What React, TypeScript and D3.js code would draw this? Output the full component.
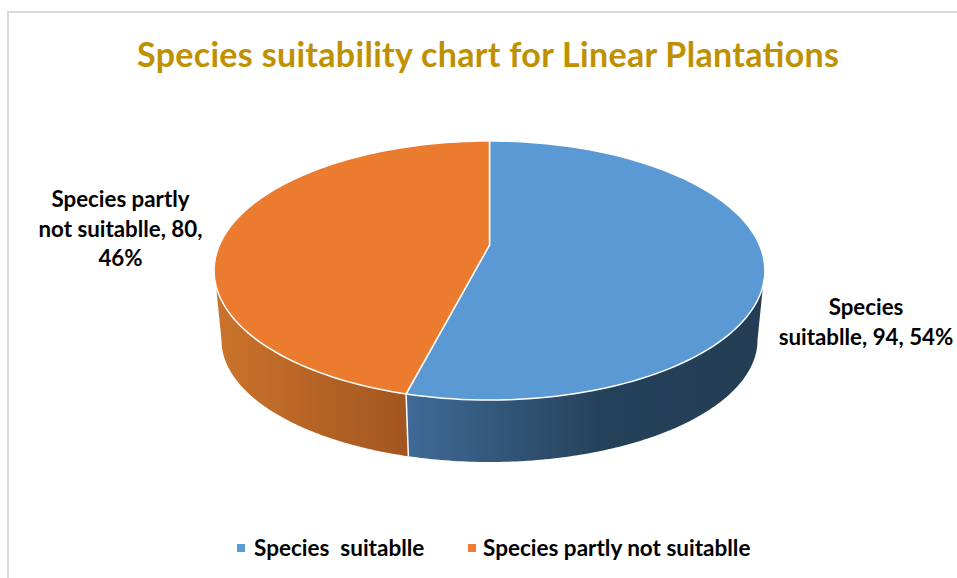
import React from "react";
import * as d3 from "d3";

const categories = ["Species  suitablle", "Species partly not suitablle"];
const values = [94, 80];
const colors = ["#5A99D4", "#EA7B2F"];
const title = "Species suitability chart for Linear Plantations";
const labelLines = [
  ["Species", "suitablle, 94, 54%"],
  ["Species partly", "not suitablle, 80,", "46%"],
];
const font = "Lato, 'Open Sans', sans-serif";

const W = 957, H = 578;
const cx = 489.5, apexY = 245, A = 270, B = 124.5, K = 0.197;
const topCy = 270.5, topRy = 129.5, topRx = 275.5;
const botCy = 340, botRy = 122, botRx = 268;

const project = (a: number): [number, number] => {
  const u = Math.sin(a), v = -Math.cos(a), d = 1 - K * v;
  return [cx + (A * u) / d, apexY + (B * v) / d];
};
const sample = (a0: number, a1: number, n = 120) =>
  d3.range(n + 1).map((i) => a0 + ((a1 - a0) * i) / n);
const line = d3.line();

const arcs = d3.pie<number>().sort(null)(values);

const wedgePath = (a0: number, a1: number) =>
  line([[cx, apexY], ...sample(a0, a1).map(project)]) + "Z";

// screen-ellipse parameter (0 = right, PI/2 = bottom) of a pie angle on the rim
const rimTheta = (a: number) => {
  const [x, y] = project(a);
  return Math.atan2((y - topCy) / topRy, (x - cx) / topRx);
};
const wallPath = (t0: number, t1: number, b0: number, b1: number) => {
  const top = sample(t0, t1).map((t): [number, number] => [
    cx + topRx * Math.cos(t),
    topCy + topRy * Math.sin(t),
  ]);
  const bot = sample(b1, b0).map((t): [number, number] => [
    cx + botRx * Math.cos(t),
    botCy + botRy * Math.sin(t),
  ]);
  return line([...top, ...bot]) + "Z";
};

export default function App() {
  const split = rimTheta(arcs[0].endAngle);
  const startT = (7 * Math.PI) / 180;
  const endT = Math.PI - startT;
  const px = cx + topRx * Math.cos(split), py = topCy + topRy * Math.sin(split);
  const qx = cx + botRx * Math.cos(split), qy = botCy + botRy * Math.sin(split);
  return (
    <svg width={W} height={H} style={{ position: "fixed", left: 0, top: 0, background: "#fff" }}>
      <defs>
        <linearGradient id="blueWall" gradientUnits="userSpaceOnUse" x1={408} x2={765} y1={0} y2={0}>
          <stop offset="0" stopColor="#3F6A97" />
          <stop offset="0.55" stopColor="#254159" />
          <stop offset="1" stopColor="#233D54" />
        </linearGradient>
        <linearGradient id="orangeWall" gradientUnits="userSpaceOnUse" x1={215} x2={408} y1={0} y2={0}>
          <stop offset="0" stopColor="#CB732C" />
          <stop offset="1" stopColor="#A2561F" />
        </linearGradient>
      </defs>
      <path d={`M8,${H}V12H${W}`} fill="none" stroke="#D9D9D9" strokeWidth={2} />
      <text x={488} y={67} textAnchor="middle" fontFamily={font} fontWeight={700} fontSize={34} fill="#BF9000" textLength={702} lengthAdjust="spacing">
        {title}
      </text>

      <path d={wallPath(startT, split, 0, split)} fill="url(#blueWall)" />
      <path d={wallPath(split, endT, split, Math.PI)} fill="url(#orangeWall)" />
      <line x1={px} y1={py} x2={qx} y2={qy} stroke="#fff" strokeWidth={1.5} />
      {arcs.map((d, i) => (
        <path key={i} d={wedgePath(d.startAngle, d.endAngle)} fill={colors[i]} stroke="#fff" strokeWidth={1.5} strokeLinejoin="round" />
      ))}

      <g fontFamily={font} fontWeight={700} fontSize={22.3} fill="#000" textAnchor="middle">
        {labelLines[0].map((t, i) => (
          <text key={t} x={866} y={315 + i * 29.5}>{t}</text>
        ))}
        {labelLines[1].map((t, i) => (
          <text key={t} x={120.5} y={207 + i * 29.5}>{t}</text>
        ))}
      </g>

      <g fontFamily={font} fontWeight={700} fontSize={22.5} fill="#000">
        <rect x={237} y={544} width={8} height={8} fill="#5B9BD5" />
        <text x={254} y={556} xmlSpace="preserve" style={{ whiteSpace: "pre" }}>{categories[0]}</text>
        <rect x={468} y={544} width={8} height={8} fill="#ED7D31" />
        <text x={483} y={556}>{categories[1]}</text>
      </g>
    </svg>
  );
}
